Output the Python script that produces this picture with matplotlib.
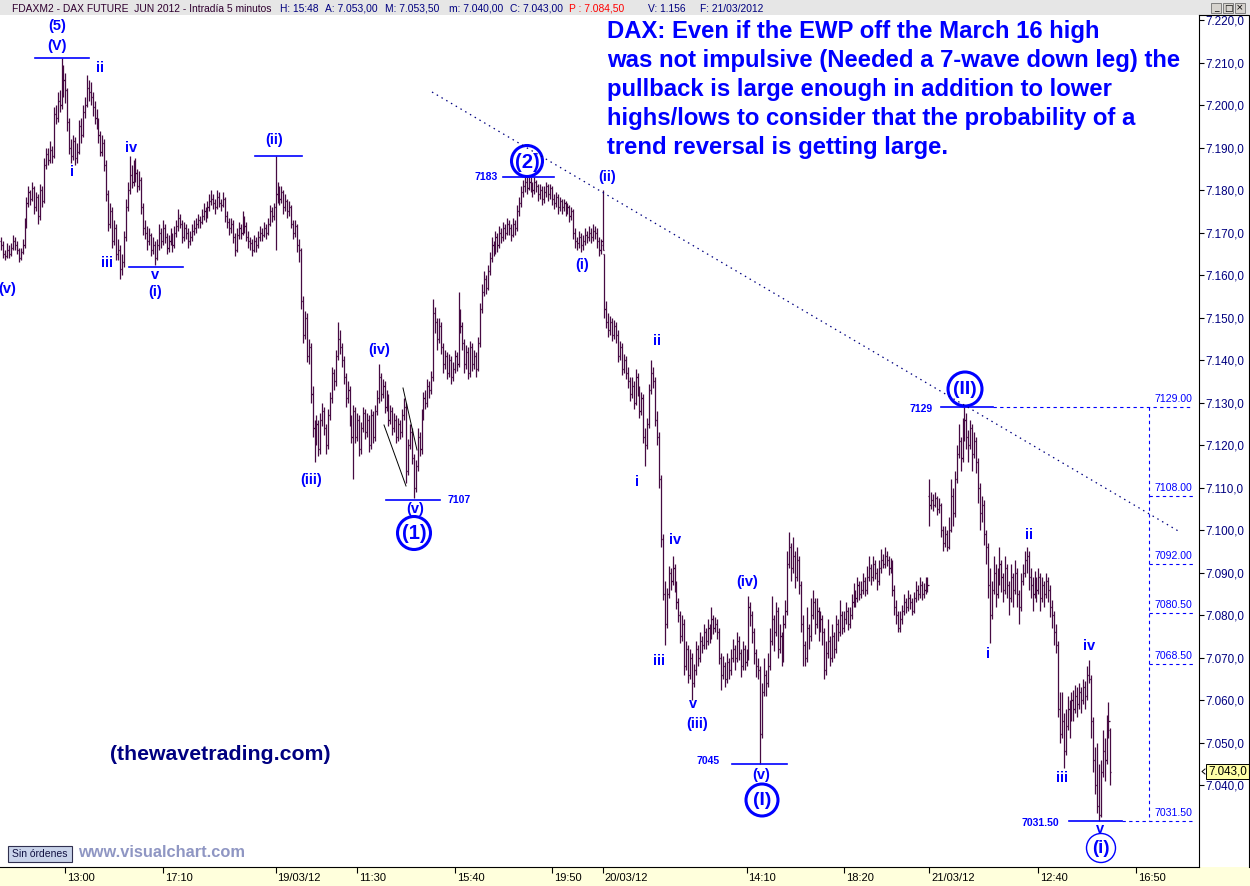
import numpy as np
import pandas as pd
import matplotlib
matplotlib.use("Agg")
import matplotlib.pyplot as plt
import matplotlib.transforms as mtransforms
from matplotlib.collections import LineCollection
from matplotlib.patches import Rectangle, Ellipse
from matplotlib.lines import Line2D

# ---------------- DATA (5-minute OHLC bars, FDAX Jun 2012) ----------------
# each tuple: (open, high, low, close) in points above the day's base price
base_16mar = 7100
bars_16mar = [
    (68,69,66,67),(67,68,64,65),(65,66,63.5,64.5),(64.5,67.5,64,66),(66,67,64,65),(65,67.5,64.5,66.5),(66.5,69.5,66,68),(68,69,66,67),(67,68,65,66),(66,66.5,63,64),
    (64,66.5,63.5,65.5),(65.5,68.5,65,67),(67,73.5,66.5,72),(72,78.5,71,77),(77,81,76,79.5),(79.5,80,76.5,78),(78,82,77.5,80.5),(80.5,81,74.5,76),(76,79.5,75,78.5),(78.5,79,72,74),
    (74,81.5,73,80),(80,81,76,77.5),(77.5,87.5,77,86),(86,90,85,88.5),(88.5,90,86,87),(87,91.5,86.5,89.5),(89.5,90.5,86.5,88),(88,99.5,87.5,98),(98,100,95.5,97),(97,103,96,101),
    (101,103.5,98.5,100),(100,111,99,105),(105,109.5,102,106),(106,107.5,100.5,103.5),(103.5,104,94,96),(96,97,88.5,90),(90,92,86.5,88),(88,93,87,91.5),(91.5,92.5,86,87.5),(87.5,91,86.5,89),
    (89,96.5,88.5,95),(95,97,91,93),(93,100,92.5,98.5),(98.5,102,97,100),(100,107,99.5,104),(104,106,101,103),(103,105.5,100,102),(102,103,97.5,99.5),(99.5,101,95.5,97),(97,99,94.5,96),
    (96,97,91,93),(93,94,88,89),(89,93,88,91),(91,92,84.5,86),(86,87,77.5,79),(79,80,70.5,72),(72,77,71,75),(75,76,66.5,68),(68,73,67,71),(71,72,63.5,65),
    (65,68.5,63.5,66),(66,67,59,61.5),(61.5,65,60,63),(63,70.5,62,69),(69,78,68,76),(76,82,75,80),(80,88,79,83.5),(83.5,86,80.5,82),(82,87,81,85),(85,87.5,82,84),
    (84,85,79.5,81),(81,84.5,80,82.5),(82.5,83,74.5,76),(76,77,69.5,71),(71,73,68.5,70),(70,71.5,66,68),(68,71,67,69.5),(69.5,70,64.5,66),(66,69,65,67),(67,68,62.5,64),
    (64,68.5,63.5,67),(67,72,66,70),(70,71,66.5,68),(68,73,67,71),(71,72,67.5,69),(69,70,65,66.5),(66.5,69.5,65.5,68),(68,71,67,69),(69,70,65.5,67),(67,71.5,66.5,70),
    (70,73,69,71.5),(71.5,75.5,70.5,73.5),(73.5,74.5,71,72),(72,73,67.5,69),(69,72.5,68,71),(71,72,68.5,70),(70,71,66.5,68),(68,70.5,67,69),(69,72,68,70.5),(70.5,73,69.5,71),
    (71,73.5,70,72),(72,74.5,71,73),(73,74,71,72.5),(72.5,75.5,72,74),(74,77,73,75),(75,76,72.5,74),(74,77.5,73.5,76),(76,79,75,77.5),(77.5,80,76.5,78),(78,79,75.5,77),
    (77,78,74.5,76),(76,80,75.5,78.5),(78.5,79.5,76,77),(77,78,75,76.5),(76.5,79.5,76,78),(78,78.5,72.5,74),(74,75,71,72.5),(72.5,73.5,69.5,71),(71,73.5,70,72),(72,73,67.5,69),
    (69,70,64.5,66),(66,71,65.5,69.5),(69.5,72.5,68.5,71),(71,72,68.5,70),(70,75,69.5,73),(73,74,70,71.5),(71.5,72.5,68,69),(69,70.5,66.5,68),(68,69,66,67.5),(67.5,68.5,64.5,66),
    (66,69.5,65.5,68),(68,69,65.5,67),(67,70.5,66.5,69),(69,71.5,68,70),(70,71,68,69.5),(69.5,72.5,69,71),(71,72,68.5,70),(70,73.5,69.5,72),(72,76.5,71.5,75),(75,76,72.5,74),
    (74,77,73,76),
]
base_19mar = 7100
bars_19mar = [
    (76,88,66,79),(79,82,77,80),(80,81,76.5,78),(78,81,77,79.5),(79.5,80,74.5,76),(76,79,75,77.5),(77.5,78,73.5,75),(75,77.5,74,76),(76,76.5,71,72),(72,73,68.5,70),
    (70,73,69,71.5),(71.5,72,65.5,67),(67,68.5,63,66),(66,66.5,52,54),(54,55,44,46),(46,51.5,45,50),(50,51,39.5,41),(41,45,39,43),(43,44,30,32),(32,34,22,24),
    (24,26,16,21),(21,27,20,25),(25,26,17.5,19),(19,27.5,18,26),(26,30,24.5,28),(28,29,22.5,24),(24,25,18,20),(20,28.5,19,27),(27,32.5,26,31),(31,38.5,30,37),
    (37,38,33,35),(35,42.5,34,41),(41,49,40,45),(45,47,41.5,43),(43,44,38.5,40),(40,41,34.5,36),(36,37,29,31),(31,35,30,33),(33,34,24.5,26),(26,27,20.5,22),
    (22,29.5,12,28),(28,29,20.5,22),(22,27.5,21,26),(26,27,17.5,19),(19,25.5,18,24),(24,29,23,27.5),(27.5,28.5,21.5,23),(23,27.5,22,26),(26,27,18.5,20),(20,28.5,19,27),
    (27,28,20.5,22),(22,29.5,21,28),(28,33,27,31),(31,39,30,36),(36,37,30.5,32),(32,35.5,31,34),(34,35,27.5,29),(29,33,28,31),(31,32,24.5,26),(26,29.5,25,28),
    (28,29,22.5,24),(24,27.5,23,26),(26,27,20.5,22),(22,26.5,21,25),(25,26,21.5,23),(23,28.5,22,27),(27,31,26,29),(29,30,11,14),(14,21.5,13,20),(20,25,19,23),
    (23,24,15.5,17),(17,18,7.5,10),(10,16.5,9,15),(15,24,14,22),(22,23,17.5,19),(19,28.5,18,27),(27,32.5,26,31),(31,33,28.5,30),(30,35.5,29,34),(34,35,31,33),
    (33,37.5,32,36),(36,54.5,35,51),(51,52.5,46.5,49),(49,50,42.5,45),(45,50,44,48),(48,49,41.5,43),(43,44,37,39),(39,42.5,38,41),(41,42,35.5,37),(37,41.5,36,40),
    (40,41,34.5,36),(36,39.5,35,38),(38,42.5,37,41),(41,42,37.5,39),(39,56,38.5,51),(51,52,46.5,48),(48,49,42.5,44),(44,45,37,39),(39,43.5,38,42),(42,43,35.5,37),
    (37,44.5,36,43),(43,44,37.5,39),(39,42.5,38,41),(41,42,36,38),(38,45.5,37.5,44),(44,53.5,43,52),(52,58,51,56),(56,61,55,59),(59,60,55.5,57),(57,62.5,56.5,61),
    (61,65.5,60,64),(64,69,63,67),(67,68,64.5,66),(66,70.5,65,69),(69,70,65.5,67),(67,71.5,66.5,70),(70,71,67.5,69),(69,72.5,68,71),(71,72,68.5,70),(70,73.5,69.5,72),
    (72,73,69.5,71),(71,72,68,69.5),(69.5,73.5,69,72),(72,73,69.5,71),(71,76.5,70.5,75),(75,78.5,74,77),(77,81,76,79.5),(79.5,82.5,78.5,81),(81,83,79.5,82),(82,83,79,80.5),
    (80.5,83,80,82),(82,83,79.5,81),(81,82,78.5,80),(80,83,79,82),(82,82.5,79.5,81),(81,81.5,77.5,79),(79,81.5,78,80),(80,81,76.5,78),(78,81,77,79.5),(79.5,82,78.5,81),
    (81,81.5,77.5,79),(79,81.5,78,80.5),(80.5,81,76.5,78),(78,79,75.5,77),(77,79.5,76,78.5),(78.5,79,74.5,76),(76,78.5,75,77.5),(77.5,78,74.5,76),(76,78,75,77),(77,77.5,74,75.5),
    (75.5,77,74.5,76),(76,76.5,72.5,74),(74,76,73,75),(75,75.5,68.5,70),(70,71,66.5,68),(68,69,66,67.5),(67.5,70.5,66.5,69),(69,70,65.5,67),(67,69.5,66,68),(68,71,67,69.5),
    (69.5,70.5,67.5,69),(69,71.5,68,70),(70,71,67.5,69),(69,72,68,70.5),(70.5,71.5,68.5,70),(70,71,66.5,68),(68,69,64.5,66),(66,68.5,65,67),
]
base_20mar = 7000
bars_20mar = [
    (168,180,166,166),(165,165,150,152),(152,154,147.5,149),(149,151,145.5,147),(147,150.5,146,149),(149,150,144.5,146),(146,149.5,145,148),(148,149,144,146),(146,147,139.5,141),(141,144.5,140,143),
    (143,144,136.5,138),(138,141.5,137,140),(140,141,135.5,137),(137,138.5,133.5,135),(135,136,130.5,132),(132,136,131,134),(134,135,128.5,130),(130,138,129.5,136),(136,137,131.5,133),(133,134,126.5,128),
    (128,132.5,127,131),(131,132,120.5,122),(122,124,115,120),(120,126.5,119,125),(125,134.5,124,133),(133,140,132,137),(137,138.5,133.5,135),(135,136,124.5,126),(126,128,120,122),(122,123,110,112),
    (112,113,96,98),(98,99,83.5,85),(85,88,73,78),(78,86.5,77,85),(85,91.5,84,90),(90,91,86,88),(88,94,87,91),(91,92,85.5,87),(87,88,81.5,83),(83,84,78.5,80),
    (80,81,73.5,75),(75,80,74,78),(78,79,66,68),(68,74,67,72),(72,73,64,66),(66,72,65,70),(70,71,60,64),(64,68.5,63,67),(67,74,66,72),(72,73,68,70),
    (70,76,69,74),(74,75,71,73),(73,78,72,76),(76,77,72,74),(74,79,73,77),(77,78,73.5,75),(75,82,74.5,79),(79,80,75.5,77),(77,79.5,76,78),(78,79,74.5,76),
    (76,77,68.5,70),(70,71,62.5,66),(66,70.5,65,68),(68,69,63,65),(65,71,64,69),(69,70,65,67),(67,72,66,70),(70,74.5,69,72),(72,73,67,70),(70,76,69,74),
    (74,75,69.5,71),(71,72,65.5,68),(68,74,67,72),(72,73,67,69),(69,72,68,70),(70,84.5,69.5,82),(82,83,77.5,80),(80,81,73.5,76),(76,77,68.5,71),(71,72,65.5,68),
    (68,70,65,67),(67,68,45,52),(52,64,51,62),(62,70,61,66),(66,67,61,64),(64,71,63,68),(68,77,67,74),(74,84.5,73,79),(79,80,71.5,76),(76,83,75,81),
    (81,82,70,72),(72,78,71,75),(75,76,68,70),(70,80,69,78),(78,83.5,77,81),(81,95,80,92),(92,99.5,91,96),(96,97,88,91),(91,98.5,90,94),(94,95,86.5,89),
    (89,96,88,93),(93,94,85,87),(87,88,76,78),(78,80,68,73),(73,74,68,70),(70,82,69,77),(77,78,72,75),(75,84,74,80),(80,86,79,83),(83,84,75.5,78),
    (78,84,77,81),(81,82,74,77),(77,81,76,79),(79,80,73,76),(76,77,65,67),(67,74,66,71),(71,79,70,74),(74,75,68,70),(70,78,69,75),(75,76,70,72),
    (72,80,71,78),(78,79,74,76),(76,83.5,75,80),(80,81,75.5,77),(77,81,76,79),(79,83,78,81),(81,82,76.5,78),(78,82,77,80),(80,85,79,83),(83,87.5,82,85),
    (85,86,82,84),(84,89,83,87),(87,88,83.5,85),(85,88,84,86),(86,90,85,88),(88,89,84.5,86),(86,91.5,85,89),(89,94,88,91),(91,92,87,89),(89,94,88,92),
    (92,93,88.5,90),(90,91,86,88),(88,93,87,91),(91,95.5,90,93),(93,94.5,91,92),(92,96,91,94),(94,95,91.5,93),(93,94,89.5,91),(91,93.5,90,92),(92,93,84.5,86),
    (86,87,80,82),(82,83.5,78,80),(80,81,76,77),(77,81,76,79),(79,82.5,78,81),(81,85,80,83),(83,84,80.5,82),(82,86,81,84),(84,85,81.5,83),(83,84,80,81),
    (81,85.5,80.5,84),(84,88,83,86),(86,87,83.5,85),(85,89,84,87),(87,88,83.5,85),(85,87.5,84,86),(86,89,85,88),(88,89,85.5,87),
]
base_21mar = 7000
bars_21mar = [
    (108,112,101,106),(106,109,105,107),(107,108.5,104.5,106),(106,109,105.5,107.5),(107.5,108,103.5,105),(105,107.5,104,106),(106,106.5,98.5,100),(100,101,95,97),(97,101,96,99),(99,100,95,96),
    (96,103,95.5,100),(100,112,99.5,108),(108,110,101,104),(104,114,103,112),(112,120,111,118),(118,125,117,121),(121,122,114,117),(117,126.5,116,124),(124,129,121,126),(126,127.5,119,122),
    (122,123.5,116,120),(120,126,119,124),(124,125,114,118),(118,123,117,121),(121,122,113.5,116),(116,117,106.5,110),(110,111,100,104),(104,108,102,106),(106,107,96.5,99),(99,100,92,96),
    (96,97,84,87),(87,91,73.5,80),(80,88,79,86),(86,94,85,90),(90,92,82,85),(85,91,84,88),(88,96,87,92),(92,93,85.5,89),(89,90,83,86),(86,94,85,91),
    (91,92,84,87),(87,88,80,84),(84,92,83,89),(89,90,82,86),(86,93,85,90),(90,91,82,85),(85,86,78,82),(82,90,81,88),(88,92,87,90),(90,95,89,93),
    (93,96,90,94),(94,95,86,89),(89,91,84,87),(87,89,81,85),(85,90.5,84,88),(88,89,83,86),(86,91,85,89),(89,90,81,84),(84,89,83,87),(87,88,82,85),
    (85,90,84,88),(88,89,83,86),(86,87,79.5,82),(82,83.5,77,80),(80,81,73,76),(76,78,71,73),(73,74,56,58),(58,62,50,52),(52,62,51,55),(55,57,44,48),
    (48,58,47,54),(54,61,53,58),(58,60,51,56),(56,62,55,60),(60,62.5,55,58),(58,63.5,57,61),(61,63,56,59),(59,64,58,62),(62,63,57,60),(60,65,59,63),
    (63,64.5,58,61),(61,68,60,66),(66,69.5,64,65),(65,66,51,55),(55,56,43,46),(46,49,38,40),(40,50,33.5,35),(35,45,31.5,33),(33,46,32.5,43),(43,53,42,48),
    (48,51,41,46),(46,56.5,45,52),(52,59.5,51,55),(53,53.5,40,43),
]
sessions = [("2012-03-16 10:15", "2012-03-16 21:55"),
            ("2012-03-19 08:00", "2012-03-19 21:55"),
            ("2012-03-20 08:00", "2012-03-20 21:55"),
            ("2012-03-21 08:00", "2012-03-21 15:45")]
tick_times = ["2012-03-16 13:00", "2012-03-16 17:10", "2012-03-19 08:00", "2012-03-19 11:30",
              "2012-03-19 15:40", "2012-03-19 19:50", "2012-03-20 08:00", "2012-03-20 14:10",
              "2012-03-20 18:20", "2012-03-21 08:00", "2012-03-21 12:40", "2012-03-21 16:50"]
tick_labels = ["13:00", "17:10", "19/03/12", "11:30", "15:40", "19:50", "20/03/12", "14:10",
               "18:20", "21/03/12", "12:40", "16:50"]
price_ticks = list(range(7040, 7221, 10))
last_price = 7043.0
wave_levels = [7211, 7162, 7188, 7107, 7183, 7045, 7129, 7031.5]
fib_levels = [7129.00, 7108.00, 7092.00, 7080.50, 7068.50, 7031.50]

# ---------------- build bars ----------------
O, Hh, L, C = [], [], [], []
for bars, base in [(bars_16mar, base_16mar), (bars_19mar, base_19mar),
                   (bars_20mar, base_20mar), (bars_21mar, base_21mar)]:
    for o, h, l, c in bars:
        O.append(base + o); Hh.append(base + h); L.append(base + l); C.append(base + c)
n = len(C)

day_start = {}
pos = 0
for (s, e), bars in zip(sessions, [bars_16mar, bars_19mar, bars_20mar, bars_21mar]):
    day_start[s[:10]] = (pos, pd.Timestamp(s))
    pos += len(bars)

def time_pos(t):
    t = pd.Timestamp(t)
    i0, t0 = day_start[str(t.date())]
    return i0 + (t - t0).total_seconds() / 300.0

# ---------------- figure ----------------
W, H = 1250, 886
plt.rcParams['font.family'] = ['Liberation Sans', 'DejaVu Sans']
fig = plt.figure(figsize=(W / 100, H / 100), dpi=100)
fig.patch.set_facecolor('white')
PX = mtransforms.Affine2D().scale(1 / W, -1 / H).translate(0, 1) + fig.transFigure

AX_TOP, AX_BOT, AX_RIGHT = 15, 867, 1199
ax = fig.add_axes([0, (H - AX_BOT) / H, AX_RIGHT / W, (AX_BOT - AX_TOP) / H])
ax.set_facecolor('white')

bar_px, x0_px = 1.946, 1.2
pt_px, y7220 = 4.25, 20.2
ax.set_xlim((0 - x0_px) / bar_px, (AX_RIGHT - x0_px) / bar_px)
ax.set_ylim(7220 - (AX_BOT - y7220) / pt_px, 7220 + (y7220 - AX_TOP) / pt_px)

bar_col = '#460a42'
idx = np.arange(n)
segs = [((i, L[i]), (i, Hh[i])) for i in idx]
segs += [((i - 0.55, O[i]), (i, O[i])) for i in idx]
segs += [((i, C[i]), (i + 0.55, C[i])) for i in idx]
lc = LineCollection(segs, colors=bar_col, linewidths=0.9, antialiaseds=True, zorder=3)
ax.add_collection(lc)

for sp in ['left', 'top']:
    ax.spines[sp].set_visible(False)
ax.spines['right'].set_color('black')
ax.spines['bottom'].set_color('black')

ax.yaxis.tick_right()
ax.set_yticks(price_ticks)
def fmt(v, _):
    s = f"{v:,.1f}"
    return s.replace(',', 'X').replace('.', ',').replace('X', '.')
ax.yaxis.set_major_formatter(matplotlib.ticker.FuncFormatter(fmt))
ax.tick_params(axis='y', direction='out', length=3.5, width=0.8, colors='black',
               labelsize=8.4, labelcolor='#000080', pad=1)

tpos = [time_pos(t) for t in tick_times]
ax.set_xticks(tpos)
ax.set_xticklabels([])
ax.tick_params(axis='x', direction='out', length=4, width=0.8, colors='black')
lab_tr = mtransforms.offset_copy(ax.get_xaxis_transform(), fig=fig, x=2, y=-11, units='dots')
for p, lab in zip(tpos, tick_labels):
    ax.text(p, 0, lab, transform=lab_tr, ha='left', va='center', fontsize=8, color='black', clip_on=False)

# ---------------- frame decorations ----------------
fig.add_artist(Rectangle((0, 0), W, AX_TOP, transform=PX, facecolor='#e6e6e6', edgecolor='none', zorder=0))
fig.add_artist(Rectangle((0, AX_BOT), W, H - AX_BOT, transform=PX, facecolor='#ffffdc', edgecolor='none', zorder=0))
fig.add_artist(Line2D([AX_RIGHT, W - 1, W - 1], [AX_TOP, AX_TOP, AX_BOT], transform=PX, color='black', lw=0.8))
for k, g in enumerate(['_', '□', '×']):
    bx = 1211 + k * 12
    fig.add_artist(Rectangle((bx, 3), 10, 10, transform=PX, facecolor='#d6d3ce', edgecolor='#707070', lw=0.6))
    fig.text(bx + 5, 8, g, transform=PX, ha='center', va='center', fontsize=6.5, color='black',
             family=['DejaVu Sans'])

hdr = [("FDAXM2 - DAX FUTURE  JUN 2012 - Intradía 5 minutos", 12, '#300030'),
       ("H: 15:48", 280, '#000080'), ("A: 7.053,00", 325, '#000080'),
       ("M: 7.053,50", 385, '#000080'), ("m: 7.040,00", 449, '#000080'),
       ("C: 7.043,00", 510, '#000080'), ("P : 7.084,50", 569, '#ff0000'),
       ("V: 1.156", 648, '#000080'), ("F: 21/03/2012", 700, '#000080')]
for s, x, c in hdr:
    fig.text(x, 11.5, s, transform=PX, ha='left', va='baseline', fontsize=7.4, color=c)

fig.add_artist(Rectangle((1206, 764), 43, 15, transform=PX, facecolor='#ffffa8', edgecolor='black', lw=0.7))
fig.text(1208, 771.5, fmt(last_price, None), transform=PX, ha='left', va='center', fontsize=8.4, color='black')
fig.add_artist(Line2D([1205, 1202, 1205], [769, 771.5, 774], transform=PX, color='black', lw=0.7))

# ---------------- annotations ----------------
BLUE = '#0000ff'
fig.add_artist(Line2D([432, 1180], [92, 532], transform=PX, color='#000080', lw=0.9, ls=(0, (1.2, 3.2))))
fig.add_artist(Line2D([384, 406], [425, 486], transform=PX, color='black', lw=0.7))
fig.add_artist(Line2D([403, 417], [388, 450], transform=PX, color='black', lw=0.7))

lvl_tr = mtransforms.blended_transform_factory(PX, ax.transData)
solid_spans = [(35, 89), (129, 183), (255, 302), (386, 440), (503, 554), (732, 787), (941, 993), (1069, 1122)]
for lv, (a, b) in zip(wave_levels, solid_spans):
    ax.add_line(Line2D([a, b], [lv, lv], transform=lvl_tr, color=BLUE, lw=1.2, clip_on=False, zorder=4))
FIB_X, FIB_END = 1149, 1193
dash = (0, (3, 3))
ax.add_line(Line2D([993, FIB_END], [fib_levels[0]] * 2, transform=lvl_tr, color=BLUE, lw=0.8, ls=dash, zorder=4))
ax.add_line(Line2D([1122, FIB_END], [fib_levels[-1]] * 2, transform=lvl_tr, color=BLUE, lw=0.8, ls=dash, zorder=4))
for lv in fib_levels[1:-1]:
    ax.add_line(Line2D([FIB_X, FIB_END], [lv, lv], transform=lvl_tr, color=BLUE, lw=0.8, ls=dash, zorder=4))
ax.add_line(Line2D([FIB_X, FIB_X], [fib_levels[0], fib_levels[-1]], transform=lvl_tr, color=BLUE, lw=0.8, ls=dash, zorder=4))
fib_tr = mtransforms.offset_copy(lvl_tr, fig=fig, x=0, y=3, units='dots')
for lv in fib_levels:
    ax.text(1192, lv, f"{lv:.2f}", transform=fib_tr, ha='right', va='bottom', fontsize=7.6, color=BLUE)

wave_labels = [("(5)", 57, 26), ("(V)", 57, 46), ("ii", 100, 68), ("i", 72, 172), ("iv", 131, 148),
               ("iii", 107, 263), ("v", 155, 275), ("(i)", 155, 292), ("(v)", 7, 289),
               ("(ii)", 274, 140), ("(iii)", 311, 480), ("(iv)", 379, 350), ("(v)", 415, 509),
               ("(ii)", 607, 177), ("(i)", 582, 265), ("ii", 657, 341), ("i", 637, 482), ("iv", 675, 540),
               ("iii", 659, 661), ("v", 693, 704), ("(iii)", 697, 724), ("(iv)", 747, 582), ("(v)", 761, 775),
               ("ii", 1029, 535), ("i", 988, 654), ("iv", 1089, 646), ("iii", 1062, 778), ("v", 1100, 829)]
for s, x, y in wave_labels:
    fig.text(x, y, s, transform=PX, ha='center', va='center', fontsize=10.5, fontweight='bold', color=BLUE)

circled = [("(1)", 414, 533, 16.5, 14.5), ("(2)", 527, 161, 15.5, 14.5), ("(I)", 762, 800, 16, 14),
           ("(II)", 965, 389, 17, 14), ("(i)", 1101, 848, 14.5, 13.5)]
for s, x, y, r, fs in circled:
    fig.add_artist(Ellipse((x, y), 2 * r, 2 * r, transform=PX, fill=False, edgecolor=BLUE,
                           lw=1.0 if s == "(i)" else 2.2))
    fig.text(x, y + 1, s, transform=PX, ha='center', va='center', fontsize=fs, fontweight='bold', color=BLUE)

price_notes = [("7107", 459, 500), ("7183", 486, 176.5), ("7045", 708, 761), ("7129", 921, 409), ("7031.50", 1040, 823)]
for s, x, y in price_notes:
    fig.text(x, y, s, transform=PX, ha='center', va='center', fontsize=7.5, fontweight='bold', color=BLUE)

para = ["DAX: Even if the EWP off the March 16 high",
        "was not impulsive (Needed a 7-wave down leg) the",
        "pullback is large enough in addition to lower",
        "highs/lows to consider that the probability of a",
        "trend reversal is getting large."]
for k, s in enumerate(para):
    fig.text(607, 38 + 29 * k, s, transform=PX, ha='left', va='baseline', fontsize=17.2,
             fontweight='bold', color=BLUE)

fig.text(110, 755, "(thewavetrading.com)", transform=PX, ha='left', va='center', fontsize=15.3,
         fontweight='bold', color='#000080')

fig.add_artist(Rectangle((8, 846), 64, 16, transform=PX, facecolor='#c9d3ea', edgecolor='#303050', lw=0.8))
fig.text(40, 854.5, "Sin órdenes", transform=PX, ha='center', va='center', fontsize=7.5, color='#101040')
fig.text(78, 853, "www.visualchart.com", transform=PX, ha='left', va='center', fontsize=11.8,
         fontweight='bold', color='#8f96c3')

fig.savefig("out.png", dpi=100)
